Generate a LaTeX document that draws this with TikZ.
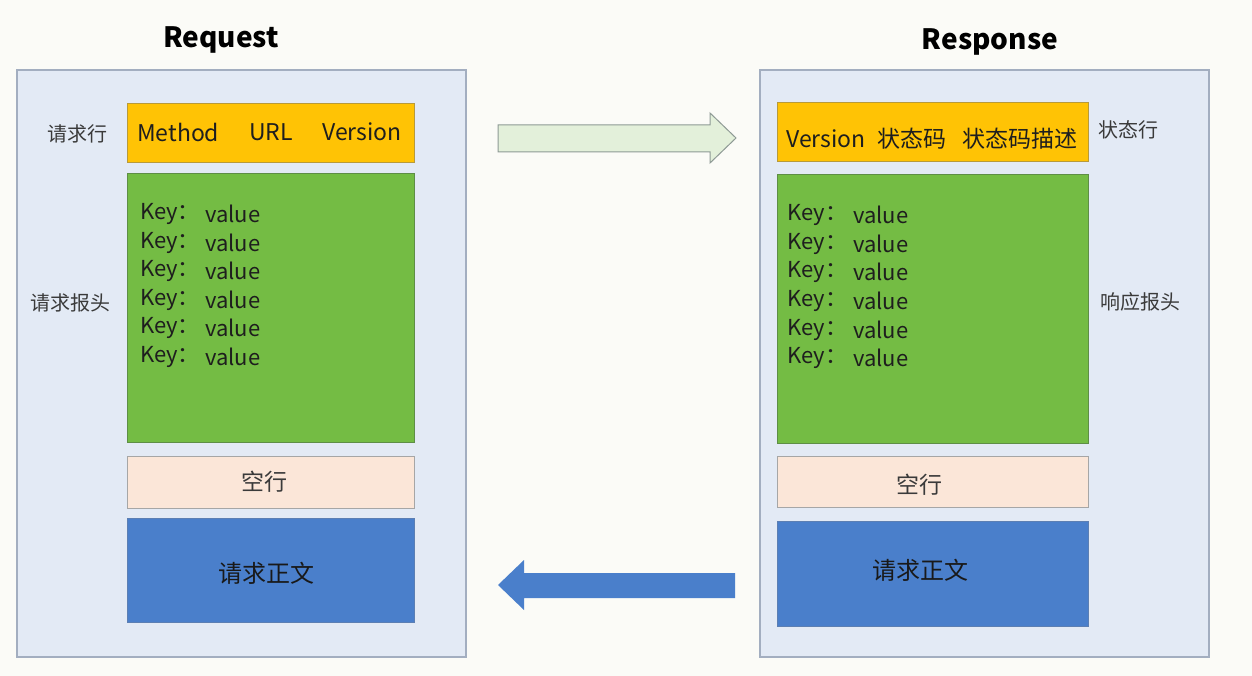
\documentclass[tikz,border=0pt]{standalone}
\usepackage{fontspec}
\setmainfont{Noto Sans CJK SC}
\definecolor{bgc}{HTML}{FBFBF7}
\definecolor{panelfill}{HTML}{E3EAF5}
\definecolor{paneldraw}{HTML}{A3AEC0}
\definecolor{yel}{HTML}{FFC305}
\definecolor{yeld}{HTML}{B89A3A}
\definecolor{grn}{HTML}{74BC44}
\definecolor{grnd}{HTML}{5E8E46}
\definecolor{peach}{HTML}{FBE6D8}
\definecolor{peachd}{HTML}{A6A6A6}
\definecolor{blu}{HTML}{4A7FCB}
\definecolor{blud}{HTML}{5C7FB3}
\definecolor{lgr}{HTML}{E3F0DA}
\definecolor{lgrd}{HTML}{8E9A95}
\definecolor{txtd}{HTML}{1E1E1E}
\definecolor{txtg}{HTML}{3A3A3A}
\begin{document}
\begin{tikzpicture}[x=1pt,y=-1pt,
  panel/.style={fill=panelfill,draw=paneldraw,line width=1.2pt},
  blk/.style={line width=1pt},
  lbl/.style={inner sep=0pt,text=txtg,font=\fontsize{20}{24}\selectfont},
  hdr/.style={inner sep=0pt,anchor=west,text=txtd,font=\fontsize{23}{27}\selectfont},
  kv/.style={inner sep=0pt,anchor=west,text=txtd,font=\fontsize{22}{26}\selectfont},
  mid/.style={inner sep=0pt,font=\fontsize{23}{27}\selectfont},
  ttl/.style={inner sep=0pt,text=black,font=\fontsize{28}{32}\selectfont\bfseries}]
\useasboundingbox (0,0) rectangle (1252,676);
\fill[bgc] (0,0) rectangle (1252,676);

% ---------- Request ----------
\node[ttl] (reqt) at (221,40) {Request};
\draw[panel] (17,70) rectangle (466,657);
\draw[blk,fill=yel,draw=yeld] (127,104) rectangle (414,163);
\draw[blk,fill=grn,draw=grnd] (127,174) rectangle (414,442);
\draw[blk,fill=peach,draw=peachd] (127,456) rectangle (414,508);
\draw[blk,fill=blu,draw=blud] (127,518) rectangle (414,622);

\node[hdr] (rm) at (137,132) {Method};
\node[hdr] (ru) at (249,132) {URL};
\node[hdr] (rv) at (322,132) {Version};
\foreach \i/\yy in {1/214,2/243,3/271,4/300,5/328,6/357}{
  \node[kv] (rk\i) at (140,\yy) {Key：};
  \node[kv] (rvl\i) at (205,\yy) {value};
}
\node[mid,text=txtg] (rblank) at (264,482) {空行};
\node[mid,text=black!90,font=\fontsize{24}{28}\selectfont] (rbody) at (266,573) {请求正文};
\node[lbl] (rline) at (77,134) {请求行};
\node[lbl] (rhead) at (70,303) {请求报头};

% ---------- Response ----------
\node[ttl] (rest) at (990,42) {Response};
\draw[panel] (760,70) rectangle (1209,657);
\draw[blk,fill=yel,draw=yeld] (777,103) rectangle (1088,162);
\draw[blk,fill=grn,draw=grnd] (777,175) rectangle (1088,443);
\draw[blk,fill=peach,draw=peachd] (777,456) rectangle (1088,507);
\draw[blk,fill=blu,draw=blud] (777,521) rectangle (1088,626);

\node[hdr] (sv) at (786,139) {Version};
\node[hdr] (sc) at (877,139) {状态码};
\node[hdr] (sd) at (962,139) {状态码描述};
\foreach \i/\yy in {1/215,2/244,3/272,4/301,5/330,6/358}{
  \node[kv] (sk\i) at (787,\yy) {Key：};
  \node[kv] (svl\i) at (853,\yy) {value};
}
\node[mid,text=txtg] (sblank) at (919,485) {空行};
\node[mid,text=black!90,font=\fontsize{24}{28}\selectfont] (sbody) at (920,570) {请求正文};
\node[lbl] (sline) at (1128,130) {状态行};
\node[lbl] (shead) at (1140,302) {响应报头};

% ---------- arrows ----------
\draw[fill=lgr,draw=lgrd,line width=1pt,line join=miter]
  (498,125) -- (710,125) -- (710,113) -- (736,138) -- (710,163) -- (710,152) -- (498,152) -- cycle;
\fill[blu]
  (735,573) -- (524,573) -- (524,560) -- (498,585) -- (524,610) -- (524,598) -- (735,598) -- cycle;
\end{tikzpicture}
\end{document}
